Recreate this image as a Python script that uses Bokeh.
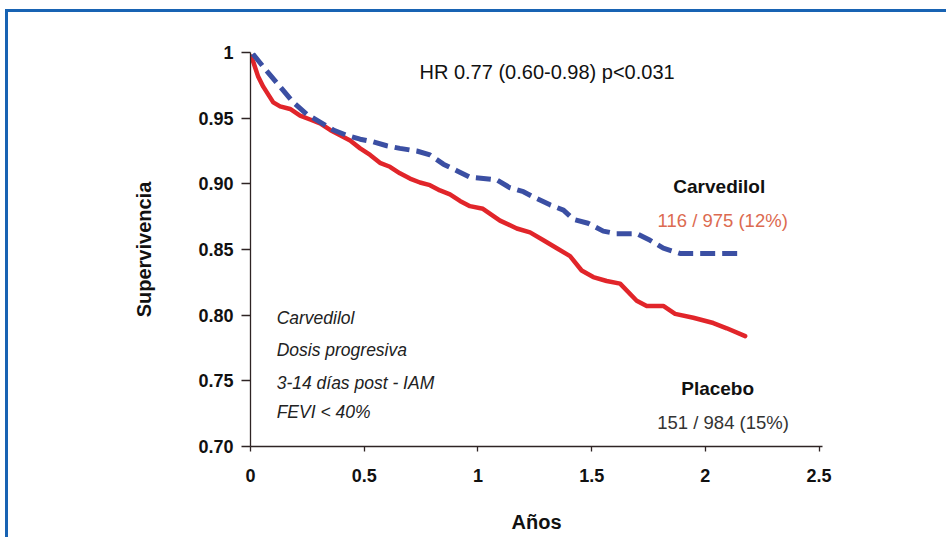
from bokeh.plotting import figure
from bokeh.models import (FixedTicker, CustomJSTickFormatter, Label, Range1d)
from bokeh.embed import file_html
from bokeh.resources import INLINE

# ---- data ----
placebo_t = [0.0, 0.012, 0.033, 0.056, 0.10, 0.13, 0.174, 0.218, 0.262, 0.306, 0.35, 0.394,
             0.438, 0.482, 0.526, 0.569, 0.613, 0.657, 0.701, 0.745, 0.789, 0.833, 0.877,
             0.921, 0.965, 1.022, 1.097, 1.171, 1.229, 1.288, 1.347, 1.405, 1.456, 1.507,
             1.566, 1.625, 1.698, 1.742, 1.815, 1.867, 1.947, 2.035, 2.094, 2.175]
placebo_s = [0.997, 0.993, 0.982, 0.974, 0.962, 0.959, 0.957, 0.952, 0.949, 0.946, 0.941, 0.937,
             0.933, 0.927, 0.922, 0.916, 0.913, 0.908, 0.904, 0.901, 0.899, 0.895, 0.892,
             0.887, 0.883, 0.881, 0.872, 0.866, 0.863, 0.857, 0.851, 0.845, 0.834, 0.829,
             0.826, 0.824, 0.811, 0.807, 0.807, 0.801, 0.798, 0.794, 0.790, 0.784]

carv_t = [0.01, 0.071, 0.13, 0.188, 0.247, 0.306, 0.364, 0.423, 0.482, 0.54, 0.599, 0.657,
          0.731, 0.789, 0.848, 0.907, 0.965, 1.024, 1.083, 1.141, 1.2, 1.244, 1.317, 1.376,
          1.42, 1.484, 1.551, 1.61, 1.698, 1.757, 1.815, 1.888, 2.167]
carv_s = [0.999, 0.986, 0.974, 0.962, 0.953, 0.947, 0.941, 0.937, 0.934, 0.932, 0.929, 0.927,
          0.925, 0.922, 0.915, 0.910, 0.905, 0.904, 0.903, 0.897, 0.894, 0.890, 0.884, 0.880,
          0.873, 0.870, 0.864, 0.862, 0.862, 0.857, 0.851, 0.847, 0.847]

x_ticks = [0, 0.5, 1, 1.5, 2, 2.5]
x_tick_labels = ["0", "0.5", "1", "1.5", "2", "2.5"]
y_ticks = [0.70, 0.75, 0.80, 0.85, 0.90, 0.95, 1.0]
y_tick_labels = ["0.70", "0.75", "0.80", "0.85", "0.90", "0.95", "1"]

hr_text = "HR 0.77 (0.60-0.98) p<0.031"
carv_name = "Carvedilol"
carv_count = "116 / 975 (12%)"
plac_name = "Placebo"
plac_count = "151 / 984 (15%)"
notes = ["Carvedilol", "Dosis progresiva", "3-14 días post - IAM", "FEVI < 40%"]

FONT = "Liberation Sans"
AXIS_COLOR = "#2e2424"
FRAME_BLUE = "#1863b3"

p = figure(width=946, height=537, x_range=Range1d(0, 2.515), y_range=Range1d(0.70, 1.0),
           output_backend="svg", toolbar_location=None,
           min_border_left=250, min_border_right=124, min_border_top=52, min_border_bottom=91)
p.outline_line_color = None
p.grid.visible = False
p.background_fill_color = "white"
p.border_fill_alpha = 0
# slide frame: blue line on top and left edges (drawn behind the transparent canvas border)
p.styles = {
    "background-color": "white",
    "box-shadow": (f"inset 5px 0 0 0 white, inset 0 9px 0 0 white, "
                   f"inset 8px 0 0 0 {FRAME_BLUE}, inset 0 12px 0 0 {FRAME_BLUE}"),
}

fmt_code = """
let best = 0; let d = Infinity;
for (let i = 0; i < tvals.length; i++) {
  const dd = Math.abs(tvals[i] - tick);
  if (dd < d) { d = dd; best = i; }
}
return tlabs[best];
"""

xa = p.xaxis[0]
xa.ticker = FixedTicker(ticks=x_ticks)
xa.formatter = CustomJSTickFormatter(args=dict(tvals=x_ticks, tlabs=x_tick_labels), code=fmt_code)
ya = p.yaxis[0]
ya.ticker = FixedTicker(ticks=y_ticks)
ya.formatter = CustomJSTickFormatter(args=dict(tvals=y_ticks, tlabs=y_tick_labels), code=fmt_code)

for ax in (xa, ya):
    ax.axis_line_color = AXIS_COLOR
    ax.axis_line_width = 1.3
    ax.major_tick_line_color = AXIS_COLOR
    ax.major_tick_line_width = 1.3
    ax.minor_tick_line_color = None
    ax.major_tick_in = 0
    ax.major_label_text_font = FONT
    ax.major_label_text_font_style = "bold"
    ax.major_label_text_font_size = "18px"
    ax.major_label_text_color = "#111111"
    ax.axis_label_text_font = FONT
    ax.axis_label_text_font_style = "bold"
    ax.axis_label_text_font_size = "20px"
    ax.axis_label_text_color = "#111111"

xa.major_tick_out = 5
xa.major_label_standoff = 17
xa.axis_label = "Años"
xa.axis_label_standoff = 26

ya.major_tick_out = 9
ya.major_label_standoff = 8
ya.axis_label = "Supervivencia"
ya.axis_label_standoff = 40

p.line(placebo_t, placebo_s, line_color="#e1252a", line_width=4.5, line_join="round", line_cap="round")
p.line(carv_t, carv_s, line_color="#3b4fa3", line_width=5, line_dash="15 7", line_cap="butt")

p.add_layout(Label(x=1.304, y=0.9855, text=hr_text, text_align="center", text_baseline="middle",
                   text_font=FONT, text_font_size="20px", text_color="#111111"))
p.add_layout(Label(x=2.061, y=0.8976, text=carv_name, text_align="center", text_baseline="middle",
                   text_font=FONT, text_font_size="19px", text_font_style="bold", text_color="#111111"))
p.add_layout(Label(x=2.076, y=0.8721, text=carv_count, text_align="center", text_baseline="middle",
                   text_font=FONT, text_font_size="18.5px", text_color="#dc6a50"))
p.add_layout(Label(x=2.054, y=0.7442, text=plac_name, text_align="center", text_baseline="middle",
                   text_font=FONT, text_font_size="19px", text_font_style="bold", text_color="#111111"))
p.add_layout(Label(x=2.078, y=0.7183, text=plac_count, text_align="center", text_baseline="middle",
                   text_font=FONT, text_font_size="18.5px", text_color="#333333"))

note_y = [0.7975, 0.7731, 0.7480, 0.7259]
for txt, yy in zip(notes, note_y):
    p.add_layout(Label(x=0.115, y=yy, text=txt, text_align="left", text_baseline="middle",
                       text_font=FONT, text_font_size="17.5px", text_font_style="italic",
                       text_color="#222222"))

open("out.html", "w").write(file_html(p, INLINE))
